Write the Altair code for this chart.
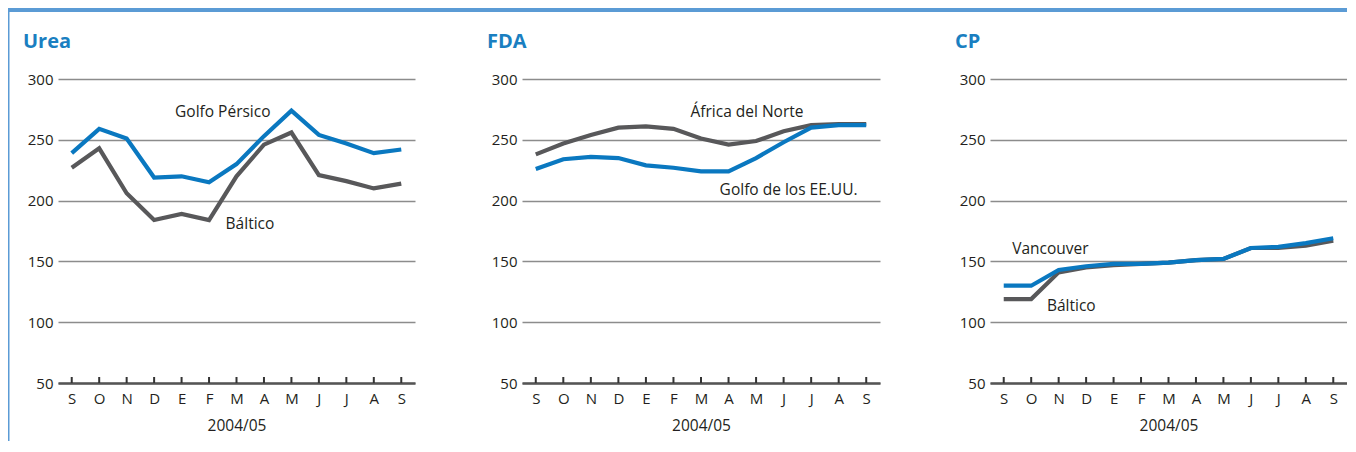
import json
import altair as alt
import pandas as pd

# ---------------- data ----------------
months = ["S", "O", "N", "D", "E", "F", "M", "A", "M", "J", "J", "A", "S"]
month_idx = list(range(13))
y_ticks = [50, 100, 150, 200, 250, 300]
x_title = "2004/05"

urea_title = "Urea"
urea_gray_name = "Báltico"
urea_gray = [227, 243, 206, 184, 189, 184, 220, 246, 256, 221, 216, 210, 214]
urea_blue_name = "Golfo Pérsico"
urea_blue = [239, 259, 251, 219, 220, 215, 230, 253, 274, 254, 247, 239, 242]
urea_lab_text = ["Golfo Pérsico", "Báltico"]
urea_lab_x = [5.5, 6.49]
urea_lab_y = [273, 181]

fda_title = "FDA"
fda_gray_name = "África del Norte"
fda_gray = [238, 247, 254, 260, 261, 259, 251, 246, 249, 257, 262, 263, 263]
fda_blue_name = "Golfo de los EE.UU."
fda_blue = [226, 234, 236, 235, 229, 227, 224, 224, 235, 248, 260, 262, 262]
fda_lab_text = ["África del Norte", "Golfo de los EE.UU."]
fda_lab_x = [7.67, 9.18]
fda_lab_y = [273, 209]

cp_title = "CP"
cp_gray_name = "Báltico"
cp_gray = [119, 119, 141, 145, 147, 148, 149, 151, 152, 161, 161, 163, 167]
cp_blue_name = "Vancouver"
cp_blue = [130, 130, 143, 146, 148, 148, 149, 151, 152, 161, 162, 165, 169]
cp_lab_text = ["Vancouver", "Báltico"]
cp_lab_x = [1.70, 2.46]
cp_lab_y = [160, 113]

# ---------------- style ----------------
BLUE = "#0a78c0"
GRAY = "#58585a"
BORDER = "#5b9bd5"
TITLE_BLUE = "#1a7fc1"
TEXT = "#231f20"
FONT = "Open Sans"
H = 304
TOP = -71

label_expr = json.dumps(months) + "[datum.value]"


def panel(title, gray_name, gray_vals, blue_name, blue_vals,
          lab_text, lab_x, lab_y, width, left_ext, right_ext, left_border):
    xscale = alt.Scale(domain=[-0.5, 12.5], nice=False, zero=False)
    yscale = alt.Scale(domain=[50, 300], nice=False, zero=False)

    gray_df = pd.DataFrame({"i": month_idx, "v": gray_vals, "s": gray_name})
    blue_df = pd.DataFrame({"i": month_idx, "v": blue_vals, "s": blue_name})
    tick_df = pd.DataFrame({"i": month_idx, "v": [50] * 13})
    lab_df = pd.DataFrame({"i": lab_x, "v": lab_y, "t": lab_text})
    one = pd.DataFrame({"t": [title]})

    x_axis = alt.Axis(values=month_idx, labelExpr=label_expr, title=x_title,
                      grid=False, ticks=False, labelPadding=8,
                      domainColor="#555555", domainWidth=2.5,
                      labelFont=FONT, labelFontSize=15, labelColor=TEXT,
                      titleFont=FONT, titleFontSize=15.5, titleFontWeight="normal",
                      titleColor=TEXT, titlePadding=12)
    y_axis = alt.Axis(values=y_ticks, title=None, grid=True, gridColor="#8c8c8c",
                      gridWidth=1.5, domain=False, ticks=False, labelPadding=5,
                      labelFont=FONT, labelFontSize=15, labelColor=TEXT)

    X = alt.X("i:Q", scale=xscale, axis=x_axis)
    Y = alt.Y("v:Q", scale=yscale, axis=y_axis)

    gray_line = alt.Chart(gray_df).mark_line(
        color=GRAY, strokeWidth=4.2, strokeJoin="miter", strokeCap="butt"
    ).encode(x=X, y=Y)
    blue_line = alt.Chart(blue_df).mark_line(
        color=BLUE, strokeWidth=4.2, strokeJoin="miter", strokeCap="butt"
    ).encode(x=X, y=Y)
    ticks = alt.Chart(tick_df).mark_rule(color="#333333", strokeWidth=2).encode(
        x=X, y=Y, y2=alt.value(H - 6),
    )
    labels = alt.Chart(lab_df).mark_text(
        font=FONT, fontSize=15.5, color=TEXT, align="center", baseline="middle"
    ).encode(x=X, y=Y, text="t:N")
    title_mark = alt.Chart(one).mark_text(
        font=FONT, fontSize=20, fontWeight="bold", color=TITLE_BLUE,
        align="left", baseline="alphabetic"
    ).encode(text="t:N", x=alt.value(-35), y=alt.value(-31))

    top_bar = alt.Chart(one).mark_rect(color=BORDER).encode(
        x=alt.value(-left_ext), x2=alt.value(width + right_ext),
        y=alt.value(TOP), y2=alt.value(TOP + 4),
    )
    layers = [gray_line, blue_line, ticks, labels, title_mark, top_bar]
    if left_border:
        side_bar = alt.Chart(one).mark_rect(color=BORDER).encode(
            x=alt.value(-left_ext), x2=alt.value(-left_ext + 1.5),
            y=alt.value(TOP), y2=alt.value(362),
        )
        layers.append(side_bar)
    return alt.layer(*layers).properties(width=width, height=H)


p1 = panel(urea_title, urea_gray_name, urea_gray, urea_blue_name, urea_blue,
           urea_lab_text, urea_lab_x, urea_lab_y, 357, 50, 73, True)
p2 = panel(fda_title, fda_gray_name, fda_gray, fda_blue_name, fda_blue,
           fda_lab_text, fda_lab_x, fda_lab_y, 358, 37, 76, False)
p3 = panel(cp_title, cp_gray_name, cp_gray, cp_blue_name, cp_blue,
           cp_lab_text, cp_lab_x, cp_lab_y, 357, 37, 0, False)

chart = alt.hconcat(p1, p2, p3, spacing=-3).properties(
    padding={"left": 0, "top": 0, "right": 0, "bottom": 0},
    background="white",
).configure_view(stroke="transparent", strokeWidth=0)

chart.save("out.html", embed_options={"renderer": "svg", "actions": False})
